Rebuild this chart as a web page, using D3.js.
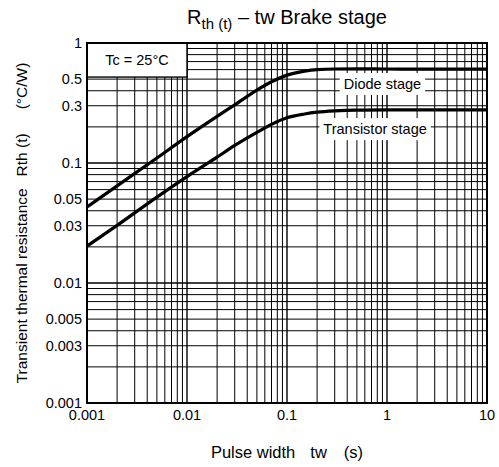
<!DOCTYPE html>
<html>
<head>
<meta charset="utf-8">
<script src="https://cdn.jsdelivr.net/npm/d3@7"></script>
<style>
  body { margin: 0; background: #fff; }
  text { font-family: "Liberation Sans", Arial, sans-serif; fill: #000; }
</style>
</head>
<body>
<svg id="chart" width="499" height="467"></svg>
<script>
// pulse width tw (s)
var pulseWidth = [0.001, 0.002, 0.005, 0.01, 0.02, 0.03, 0.05, 0.07, 0.1, 0.15, 0.2, 0.3, 0.5, 1, 2, 5, 10];
// Rth(t) (°C/W)
var diodeStage = [0.043, 0.0645, 0.11, 0.166, 0.245, 0.305, 0.405, 0.475, 0.54, 0.583, 0.6, 0.607, 0.608, 0.607, 0.606, 0.606, 0.606];
var transistorStage = [0.0203, 0.0302, 0.052, 0.077, 0.112, 0.14, 0.18, 0.21, 0.238, 0.256, 0.265, 0.272, 0.276, 0.277, 0.277, 0.277, 0.277];

var xTicks = [0.001, 0.01, 0.1, 1, 10];
var xTickLabels = ["0.001", "0.01", "0.1", "1", "10"];
var yTicks = [1, 0.5, 0.3, 0.1, 0.05, 0.03, 0.01, 0.005, 0.003, 0.001];
var yTickLabels = ["1", "0.5", "0.3", "0.1", "0.05", "0.03", "0.01", "0.005", "0.003", "0.001"];

var svg = d3.select("#chart"),
    margin = { top: 43, right: 12, bottom: 64, left: 87 },
    width = +svg.attr("width") - margin.left - margin.right,
    height = +svg.attr("height") - margin.top - margin.bottom,
    g = svg.append("g").attr("transform", "translate(" + margin.left + "," + margin.top + ")");

var x = d3.scaleLog().domain([0.001, 10]).range([0, width]);
var y = d3.scaleLog().domain([0.001, 1]).range([height, 0]);

// log grid lines: 1..9 in each decade
function logGrid(lo, hi) {
  var out = [];
  for (var e = lo; e < hi; e++) {
    for (var m = 1; m <= 9; m++) out.push({ v: m * Math.pow(10, e), major: m === 1 });
  }
  out.push({ v: Math.pow(10, hi), major: true });
  return out;
}

g.append("g").selectAll("line")
  .data(logGrid(-3, 1))
  .enter().append("line")
    .attr("x1", function (d) { return x(d.v); })
    .attr("x2", function (d) { return x(d.v); })
    .attr("y1", 0).attr("y2", height)
    .attr("stroke", "#000")
    .attr("stroke-width", function (d) { return d.major ? 1.4 : 1; });

g.append("g").selectAll("line")
  .data(logGrid(-3, 0))
  .enter().append("line")
    .attr("y1", function (d) { return y(d.v); })
    .attr("y2", function (d) { return y(d.v); })
    .attr("x1", 0).attr("x2", width)
    .attr("stroke", "#000")
    .attr("stroke-width", function (d) { return d.major ? 1.4 : 1; });

// curves
var line = d3.line()
    .x(function (d) { return x(d[0]); })
    .y(function (d) { return y(d[1]); })
    .curve(d3.curveMonotoneX);

[diodeStage, transistorStage].forEach(function (s) {
  g.append("path")
    .datum(pulseWidth.map(function (t, i) { return [t, s[i]]; }))
    .attr("d", line)
    .attr("fill", "none")
    .attr("stroke", "#000")
    .attr("stroke-width", 3.2);
});

// Tc box
g.append("rect")
  .attr("x", x(0.001)).attr("y", y(1))
  .attr("width", x(0.01) - x(0.001))
  .attr("height", y(0.52) - y(1))
  .attr("fill", "#fff").attr("stroke", "#000").attr("stroke-width", 1.4);
g.append("text")
  .attr("x", (x(0.001) + x(0.01)) / 2).attr("y", y(0.66))
  .attr("text-anchor", "middle")
  .style("font-size", "14.5px")
  .text("Tc = 25°C");

// curve labels with white background
function label(txt, tx, ty) {
  var t = g.append("text")
    .attr("x", x(tx)).attr("y", y(ty))
    .attr("text-anchor", "middle")
    .style("font-size", "14.5px")
    .text(txt);
  var b = t.node().getBBox();
  g.insert("rect", function () { return t.node(); })
    .attr("x", b.x - 4).attr("y", b.y - 3)
    .attr("width", b.width + 8).attr("height", b.height + 6)
    .attr("fill", "#fff");
}
label("Diode stage", 0.9, 0.414);
label("Transistor stage", 0.76, 0.174);

// frame
g.append("rect")
  .attr("width", width).attr("height", height)
  .attr("fill", "none").attr("stroke", "#000").attr("stroke-width", 2);

// tick labels
g.selectAll(".xl")
  .data(xTicks)
  .enter().append("text")
    .attr("class", "xl")
    .attr("x", function (d) { return x(d); })
    .attr("y", height + 17)
    .attr("text-anchor", "middle")
    .style("font-size", "14.5px")
    .text(function (d, i) { return xTickLabels[i]; });

g.selectAll(".yl")
  .data(yTicks)
  .enter().append("text")
    .attr("class", "yl")
    .attr("x", -5)
    .attr("y", function (d) { return y(d); })
    .attr("dy", "0.35em")
    .attr("text-anchor", "end")
    .style("font-size", "14.5px")
    .text(function (d, i) { return yTickLabels[i]; });

// axis titles
var xt = svg.append("text")
  .attr("x", margin.left + width / 2).attr("y", 458)
  .attr("text-anchor", "middle")
  .style("font-size", "16.5px");
xt.append("tspan").text("Pulse width");
xt.append("tspan").attr("dx", 15).text("tw");
xt.append("tspan").attr("dx", 17).text("(s)");

var yt = svg.append("text")
  .attr("transform", "translate(27," + (margin.top + height / 2) + ") rotate(-90)")
  .attr("text-anchor", "middle")
  .style("font-size", "15.5px");
yt.append("tspan").text("Transient thermal resistance");
yt.append("tspan").attr("dx", 12).text("Rth (t)");
yt.append("tspan").attr("dx", 24).text("(°C/W)");

var tt = svg.append("text")
  .attr("x", margin.left + width / 2).attr("y", 24)
  .attr("text-anchor", "middle")
  .style("font-size", "20px");
tt.append("tspan").text("R");
tt.append("tspan").attr("dy", 5).style("font-size", "15px").text("th (t)");
tt.append("tspan").attr("dy", -5).text(" – tw Brake stage");
</script>
</body>
</html>
